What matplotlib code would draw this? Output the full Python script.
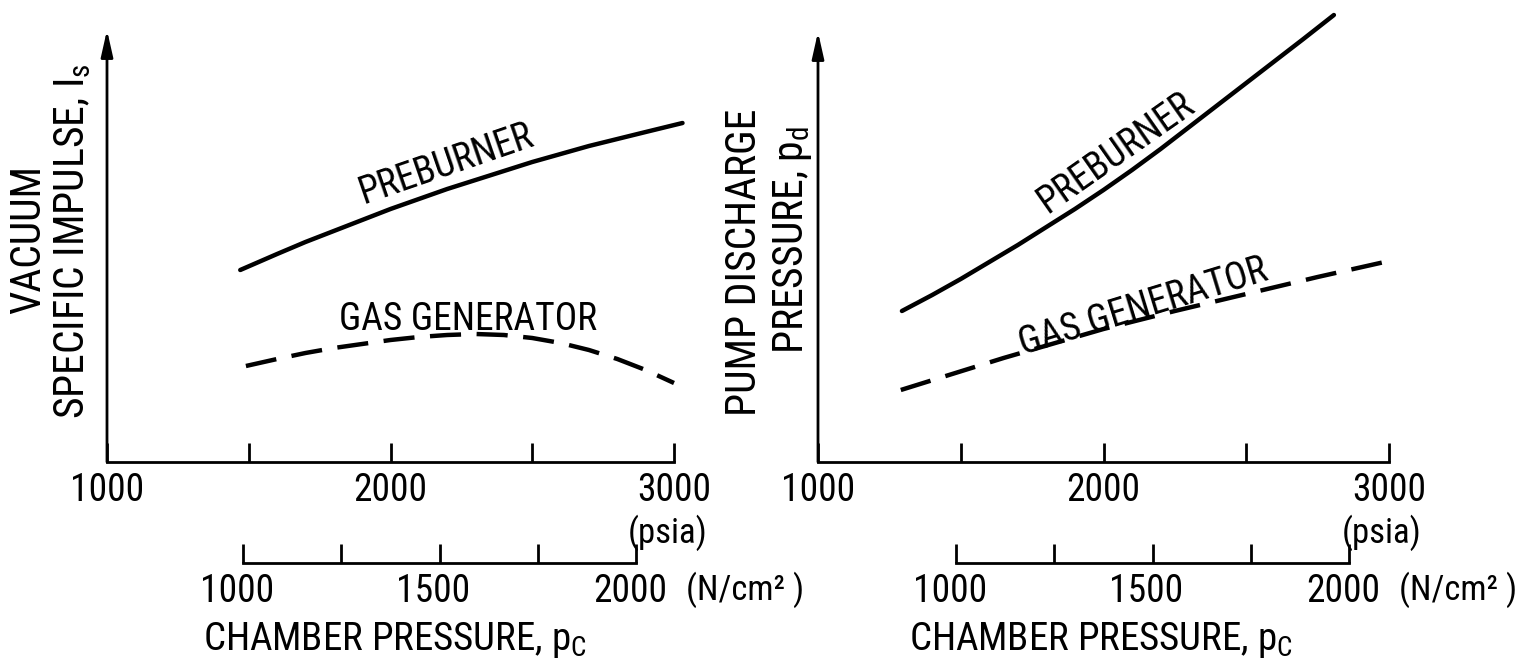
import matplotlib
matplotlib.use("Agg")
import matplotlib.pyplot as plt
from matplotlib import font_manager as fm
from matplotlib.transforms import ScaledTranslation

# ---------------- data ----------------
psia_ticks = [1000, 1500, 2000, 2500, 3000]
psia_labels = ['1000', '', '2000', '', '3000']
si_ticks = [1000, 1250, 1500, 1750, 2000]
si_labels = ['1000', '', '1500', '', '2000']

# left panel: vacuum specific impulse (relative units)
pre_psia_L = [1470, 1600, 1700, 1800, 1900, 2000, 2100, 2200, 2300, 2400, 2500,
              2600, 2700, 2800, 2900, 3030]
pre_L = [192, 208, 220, 231, 242, 253, 263, 273, 282, 291, 300,
         308, 316, 323, 330, 339]
gg_psia_L = [1490, 1600, 1700, 1800, 1900, 2000, 2100, 2200, 2300, 2400, 2500,
             2600, 2700, 2800, 2900, 3000]
gg_L = [96, 103, 109, 114, 118, 122, 125, 127, 128, 127, 124,
        119, 112, 103, 92, 79]

# right panel: pump discharge pressure (relative units)
pre_psia_R = [1294, 1400, 1500, 1600, 1700, 1800, 1900, 2000, 2100, 2200, 2300,
              2400, 2500, 2600, 2700, 2807]
pre_R = [151, 167, 183, 200, 217, 235, 253, 272, 292, 313, 335,
         357, 379, 401, 423, 447]
gg_psia_R = [1290, 1650, 2000, 2250, 2500, 2750, 3000]
gg_R = [72, 104, 133, 151, 168, 185, 201]

# ---------------- font: prefer a condensed sans if one is installed ----------------
FAM, STR = 'Liberation Sans', 'normal'
_pref = ['Liberation Sans Narrow', 'Roboto Condensed', 'Open Sans Condensed',
         'Noto Sans', 'DejaVu Sans', 'Roboto', 'Open Sans']
_found = {}
for f in fm.fontManager.ttflist:
    narrow = ('Narrow' in f.name or 'Condensed' in f.name or
              f.stretch in ('condensed', 'semi-condensed', 'extra-condensed', 500))
    if narrow and f.style == 'normal' and f.weight in (400, 'normal', 'regular', 'book'):
        _found.setdefault(f.name, f.stretch)
for p in _pref:
    if p in _found:
        FAM, STR = p, _found[p]
        break

plt.rcParams['font.family'] = [FAM, 'DejaVu Sans']
plt.rcParams['font.stretch'] = STR
plt.rcParams['mathtext.fontset'] = 'custom'
_pat = FAM if STR == 'normal' else f'{FAM}:stretch={STR}'
plt.rcParams['mathtext.rm'] = _pat
plt.rcParams['mathtext.it'] = _pat
plt.rcParams['mathtext.bf'] = _pat

W, H = 1534, 669
fig = plt.figure(figsize=(W / 100, H / 100), dpi=100)


def fx(px):
    return px / W


def fy(py):
    return 1 - py / H


AX_LW = 2.0
CURVE_LW = 3.2
TICK_FS = 27
NOTE_FS = 25
YL_FS = 30
CH_FS = 28
GG_FS = 27
PB_FS = 27


def main_axes(x0, x1, y_axis, y_top, ytop_val):
    ax = fig.add_axes([fx(x0), fy(y_axis), fx(x1) - fx(x0), fy(y_top) - fy(y_axis)])
    ax.set_xlim(1000, 3000)
    ax.set_ylim(0, ytop_val)
    for s in ['top', 'right', 'left']:
        ax.spines[s].set_visible(False)
    ax.spines['bottom'].set_linewidth(AX_LW)
    ax.set_xticks(psia_ticks)
    ax.set_xticklabels(psia_labels)
    ax.tick_params(axis='x', direction='in', length=14, width=AX_LW,
                   labelsize=TICK_FS, pad=7)
    ax.set_yticks([])
    ax.annotate('', xy=(0, 1), xytext=(0, 0), xycoords='axes fraction',
                textcoords='axes fraction',
                arrowprops=dict(arrowstyle='-|>,head_length=0.8,head_width=0.18',
                                lw=AX_LW, color='black', mutation_scale=20,
                                shrinkA=0, shrinkB=0))
    return ax


def si_axes(x0, x1, y_line):
    ax = fig.add_axes([fx(x0), fy(y_line), fx(x1) - fx(x0), 0.04])
    ax.set_xlim(1000, 2000)
    ax.patch.set_alpha(0)
    for s in ['top', 'right', 'left']:
        ax.spines[s].set_visible(False)
    ax.spines['bottom'].set_linewidth(AX_LW)
    ax.set_xticks(si_ticks)
    ax.set_xticklabels(si_labels)
    ax.tick_params(axis='x', direction='in', length=14, width=AX_LW,
                   labelsize=TICK_FS, pad=7)
    ax.set_yticks([])
    shift = ScaledTranslation(-6 / 100, 0, fig.dpi_scale_trans)
    for lab in ax.get_xticklabels():
        lab.set_transform(lab.get_transform() + shift)
    return ax


# ---------------- left panel ----------------
axL = main_axes(107, 674, 462, 30, 432)
axL.plot(pre_psia_L, pre_L, color='black', lw=CURVE_LW, solid_capstyle='round',
         solid_joinstyle='round', clip_on=False)
lg, = axL.plot(gg_psia_L, gg_L, color='black', lw=CURVE_LW, clip_on=False)
lg.set_dashes([7, 3.5])
axL.text(2197, 298, 'PREBURNER', rotation=19, ha='center', va='center',
         fontsize=PB_FS, rotation_mode='anchor')
axL.text(2273, 142, 'GAS GENERATOR', ha='center', va='center', fontsize=GG_FS)
si_axes(243, 636, 563)

fig.text(fx(29), fy(239), 'VACUUM', rotation=90, ha='center', va='center', fontsize=YL_FS)
fig.text(fx(73), fy(241), r'SPECIFIC IMPULSE, I$_{\mathrm{s}}$', rotation=90,
         ha='center', va='center', fontsize=YL_FS)
fig.text(fx(668), fy(533), '(psia)', ha='center', va='center', fontsize=NOTE_FS)
fig.text(fx(686), fy(590), '(N/cm² )', ha='left', va='center', fontsize=NOTE_FS)
fig.text(fx(395), fy(640), r'CHAMBER PRESSURE, p$_{\mathrm{C}}$', ha='center',
         va='center', fontsize=CH_FS)

# ---------------- right panel ----------------
axR = main_axes(818, 1389, 462, 32, 430)
axR.plot(pre_psia_R, pre_R, color='black', lw=CURVE_LW, solid_capstyle='round',
         solid_joinstyle='round', clip_on=False)
rg, = axR.plot(gg_psia_R, gg_R, color='black', lw=CURVE_LW, clip_on=False)
rg.set_dashes([7, 3.5])
axR.text(2044, 309, 'PREBURNER', rotation=35, ha='center', va='center',
         fontsize=PB_FS, rotation_mode='anchor')
axR.text(2138, 155, 'GAS GENERATOR', rotation=17, ha='center', va='center',
         fontsize=GG_FS, rotation_mode='anchor')
si_axes(956, 1349, 563)

fig.text(fx(744), fy(262), 'PUMP DISCHARGE', rotation=90, ha='center', va='center',
         fontsize=YL_FS)
fig.text(fx(792), fy(240), r'PRESSURE, p$_{\mathrm{d}}$', rotation=90, ha='center',
         va='center', fontsize=YL_FS)
fig.text(fx(1382), fy(533), '(psia)', ha='center', va='center', fontsize=NOTE_FS)
fig.text(fx(1399), fy(590), '(N/cm² )', ha='left', va='center', fontsize=NOTE_FS)
fig.text(fx(1101), fy(640), r'CHAMBER PRESSURE, p$_{\mathrm{C}}$', ha='center',
         va='center', fontsize=CH_FS)

fig.savefig('out.png', dpi=100)
